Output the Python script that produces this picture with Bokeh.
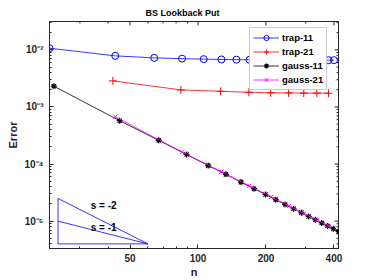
import math
from bokeh.plotting import figure
from bokeh.models import FixedTicker, Legend, LegendItem, Range1d, Label
from bokeh.embed import file_html
from bokeh.resources import INLINE

# ---- data ----
trap11_n = [22, 43, 64, 85, 106, 127, 148, 169, 190, 211, 232, 253, 274,
            295, 316, 337, 358, 379, 400]
trap11_err = [1.07e-2, 7.85e-3, 7.24e-3, 7.02e-3, 6.88e-3, 6.80e-3, 6.74e-3,
              6.70e-3, 6.68e-3, 6.66e-3, 6.65e-3, 6.64e-3, 6.63e-3, 6.62e-3,
              6.62e-3, 6.61e-3, 6.61e-3, 6.60e-3, 6.60e-3]

trap21_n = [42, 84, 126, 168, 210, 252, 294, 336, 378]
trap21_err = [2.86e-3, 1.99e-3, 1.88e-3, 1.81e-3, 1.77e-3, 1.76e-3,
              1.75e-3, 1.75e-3, 1.74e-3]

gauss11_n = [23, 45, 67, 89, 111, 133, 155, 177, 199, 221, 243, 265, 287,
             309, 331, 353, 375, 397, 419]
gauss11_err = [2.31e-3, 5.75e-4, 2.60e-4, 1.47e-4, 9.4e-5, 6.6e-5, 4.83e-5,
               3.70e-5, 2.93e-5, 2.38e-5, 1.96e-5, 1.65e-5, 1.41e-5, 1.21e-5,
               1.06e-5, 9.3e-6, 8.25e-6, 7.36e-6, 6.6e-6]

gauss21_n = [43, 85, 127, 169, 211, 253, 295, 337, 379]
gauss21_err = [6.75e-4, 1.63e-4, 7.35e-5, 4.15e-5, 2.66e-5, 1.85e-5,
               1.36e-5, 1.04e-5, 8.25e-6]

# slope reference triangles
tri_n = [24, 60, 24, 24]
tri_s2 = [4e-6, 4e-6, 2.5e-5, 4e-6]
tri_s1_n = [24, 60]
tri_s1 = [1e-5, 4e-6]
slope_labels = ["s = -2", "s = -1"]
slope_label_n = [33.5, 33.5]
slope_label_y = [1.91e-5, 7.9e-6]

x_ticks = [50, 100, 200, 400]
x_minor = [30, 40, 60, 70, 80, 90, 300]
y_ticks = [1e-5, 1e-4, 1e-3, 1e-2]
y_tick_labels = ["10\u207b\u2075", "10\u207b\u2074", "10\u207b\u00b3", "10\u207b\u00b2"]
y_minor = [m * 10.0 ** e for e in range(-6, -1) for m in range(2, 10)]

X0, X1 = 22, 419
Y0, Y1 = 3.32e-6, 3.14e-2

FONT = "Liberation Sans"
AX = "#262626"

p = figure(x_axis_type="log", y_axis_type="log",
           x_range=Range1d(X0, X1), y_range=Range1d(Y0, Y1),
           output_backend="svg", toolbar_location=None,
           title="BS Lookback Put",
           min_border_left=49, min_border_right=28, min_border_top=21,
           min_border_bottom=24)
p.frame_width = 289
p.frame_height = 227

p.title.text_font = FONT
p.title.text_font_size = "9px"
p.title.text_font_style = "bold"
p.title.align = "left"
p.title.offset = 96
p.title.standoff = 8
p.title.text_color = "#000000"

p.xgrid.visible = False
p.ygrid.visible = False
p.outline_line_color = AX
p.outline_line_width = 1

def style_axis(ax, ticks, minor):
    ax.ticker = FixedTicker(ticks=ticks, minor_ticks=minor)
    ax.axis_line_color = AX
    ax.major_tick_line_color = AX
    ax.minor_tick_line_color = AX
    ax.major_tick_in = 4
    ax.major_tick_out = 0
    ax.minor_tick_in = 2
    ax.minor_tick_out = 0
    ax.major_label_text_font = FONT
    ax.major_label_text_font_style = "bold"
    ax.major_label_text_color = "#262626"
    ax.major_label_text_font_size = "10px"
    ax.axis_label_text_font = FONT
    ax.axis_label_text_font_style = "bold"
    ax.axis_label_text_color = "#262626"
    ax.axis_label_text_font_size = "11px"

xa = p.xaxis[0]
style_axis(xa, x_ticks, x_minor)
xa.axis_label = "n"
xa.major_label_standoff = 5
xa.axis_label_standoff = 1

ya = p.yaxis[0]
style_axis(ya, y_ticks, y_minor)
ya.axis_label = "Error"
ya.major_label_standoff = 6
ya.axis_label_standoff = 2
ya.major_label_overrides = {t: l for t, l in zip(y_ticks, y_tick_labels)}

# inward ticks on the top and right edges (clipped to the frame)
p.scatter(x_ticks, [Y1] * len(x_ticks), marker="dash", angle=math.pi / 2,
          size=8, line_color=AX, line_width=1)
p.scatter(x_minor, [Y1] * len(x_minor), marker="dash", angle=math.pi / 2,
          size=4, line_color=AX, line_width=1)
yt_in = [t for t in y_ticks]
ym_in = [t for t in y_minor if Y0 < t < Y1]
p.scatter([X1] * len(yt_in), yt_in, marker="dash", size=8,
          line_color=AX, line_width=1)
p.scatter([X1] * len(ym_in), ym_in, marker="dash", size=4,
          line_color=AX, line_width=1)

# data
l1 = p.line(trap11_n, trap11_err, line_color="#0000ff", line_width=0.8)
m1 = p.scatter(trap11_n, trap11_err, marker="circle", size=7,
               line_color="#0000ff", fill_color=None, line_width=1)
l2 = p.line(trap21_n, trap21_err, line_color="#ff0000", line_width=0.8)
m2 = p.scatter(trap21_n, trap21_err, marker="cross", size=8,
               line_color="#ff0000", line_width=1)
l3 = p.line(gauss11_n, gauss11_err, line_color="#000000", line_width=0.8)
m3 = p.scatter(gauss11_n, gauss11_err, marker="asterisk", size=6,
               line_color="#000000", line_width=1.2)
l4 = p.line(gauss21_n, gauss21_err, line_color="#ff00ff", line_width=0.8)
m4 = p.scatter(gauss21_n, gauss21_err, marker="x", size=6,
               line_color="#ff00ff", line_width=1)

# slope triangles
p.line(tri_n, tri_s2, line_color="#0000ff", line_width=0.8)
p.line(tri_s1_n, tri_s1, line_color="#0000ff", line_width=0.8)
for t, xn, yv in zip(slope_labels, slope_label_n, slope_label_y):
    p.add_layout(Label(x=xn, y=yv, text=t, text_font=FONT,
                       text_font_size="10px", text_font_style="bold",
                       text_baseline="middle", text_color="#000000"))

legend = Legend(items=[
    LegendItem(label="trap-11", renderers=[l1, m1]),
    LegendItem(label="trap-21", renderers=[l2, m2]),
    LegendItem(label="gauss-11", renderers=[l3, m3]),
    LegendItem(label="gauss-21", renderers=[l4, m4]),
], location=(200, 158))
legend.label_text_font = FONT
legend.label_text_font_size = "9.5px"
legend.label_text_font_style = "bold"
legend.label_text_color = "#000000"
legend.glyph_width = 26
legend.glyph_height = 13
legend.label_height = 13
legend.label_standoff = 3
legend.spacing = 1
legend.padding = 3
legend.margin = 0
legend.border_line_color = "#999999"
legend.border_line_width = 1
legend.background_fill_alpha = 1
p.add_layout(legend, "center")

open("out.html", "w").write(file_html(p, INLINE))
